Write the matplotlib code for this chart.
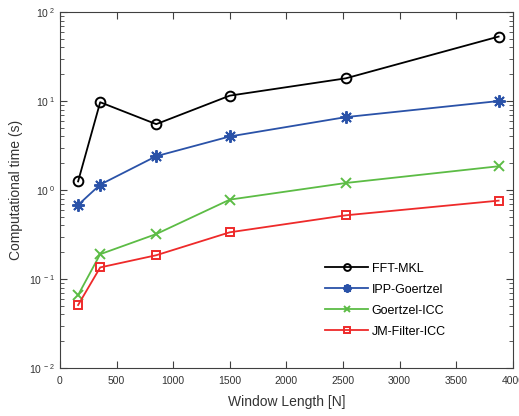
import numpy as np
import matplotlib
matplotlib.use('Agg')
import matplotlib.pyplot as plt
from matplotlib.ticker import FixedLocator, LogLocator, NullFormatter

plt.rcParams['font.family'] = ['Liberation Sans', 'DejaVu Sans']
plt.rcParams['mathtext.fontset'] = 'custom'
plt.rcParams['mathtext.rm'] = 'Liberation Sans'
plt.rcParams['mathtext.it'] = 'Liberation Sans'

# window lengths
N = [160, 355, 850, 1500, 2525, 3875]

# computational time (s)
fft_mkl = [1.25, 9.7, 5.5, 11.5, 18.0, 53.0]
ipp_goertzel = [0.68, 1.15, 2.4, 4.0, 6.6, 10.0]
goertzel_icc = [0.066, 0.19, 0.32, 0.78, 1.2, 1.85]
jm_filter_icc = [0.051, 0.135, 0.185, 0.335, 0.52, 0.76]

labels = ['FFT-MKL', 'IPP-Goertzel', 'Goertzel-ICC', 'JM-Filter-ICC']
xticks = [0, 500, 1000, 1500, 2000, 2500, 3000, 3500, 4000]
yticks = [1e-2, 1e-1, 1e0, 1e1, 1e2]
ytick_labels = ['$10^{\\ -2}$', '$10^{\\ -1}$', '$10^{\\ 0}$', '$10^{\\ 1}$', '$10^{\\ 2}$']

fig = plt.figure(figsize=(5.19, 4.16), dpi=100)
ax = fig.add_axes([0.1156, 0.1154, 0.8724, 0.8556])

ax.semilogy(N, fft_mkl, '-o', color='black', lw=1.3, ms=7, mfc='none', mew=1.4, label=labels[0])
ax.semilogy(N, ipp_goertzel, '-', marker=(8, 2, 0), color='#2a52a8', lw=1.3, ms=9, mew=1.4, label=labels[1])
ax.semilogy(N, goertzel_icc, '-x', color='#5cbc45', lw=1.3, ms=7, mew=1.4, label=labels[2])
ax.semilogy(N, jm_filter_icc, '-s', color='#ee2a2a', lw=1.3, ms=6, mfc='none', mew=1.4, label=labels[3])

ax.set_xlim(0, 4000)
ax.set_ylim(1e-2, 1e2)
ax.xaxis.set_major_locator(FixedLocator(xticks))
ax.set_yticks(yticks)
ax.set_yticklabels(ytick_labels)
ax.yaxis.set_minor_locator(LogLocator(base=10, subs=np.arange(2, 10)))
ax.yaxis.set_minor_formatter(NullFormatter())

ax.tick_params(which='both', direction='in', top=True, right=True, colors='#404040',
               labelcolor='#333333', labelsize=7.5)
ax.tick_params(which='major', length=5, width=0.8)
ax.tick_params(axis='x', pad=6)
ax.tick_params(which='minor', length=3, width=0.6)
for s in ax.spines.values():
    s.set_color('#404040')
    s.set_linewidth(0.8)

ax.set_xlabel('Window Length [N]', fontsize=10, color='#333333', labelpad=6)
ax.set_ylabel('Computational time (s)', fontsize=10, color='#333333')

ax.legend(loc='upper left', bbox_to_anchor=(0.575, 0.31), borderaxespad=0, frameon=False,
          fontsize=9, handlelength=3.4, labelspacing=0.72, handletextpad=0.3, markerscale=0.7)

fig.savefig('out.png', dpi=100)
